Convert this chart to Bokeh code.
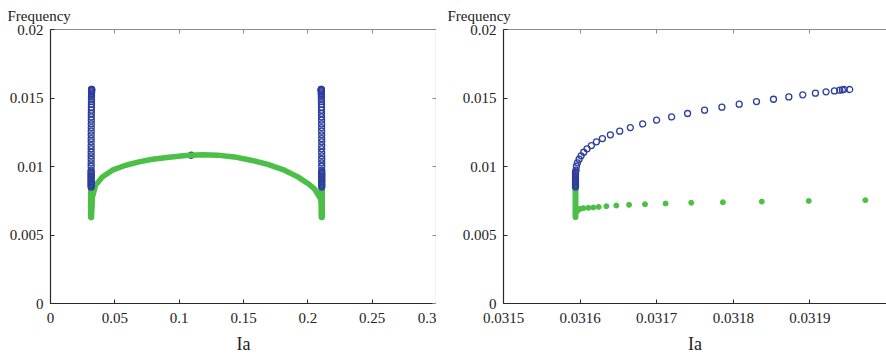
from bokeh.plotting import figure
from bokeh.layouts import row
from bokeh.models import LinearAxis, FixedTicker, Range1d
from bokeh.embed import file_html
from bokeh.resources import INLINE

# ---------------- data ----------------
# y axis
freq_ticks = [0, 0.005, 0.01, 0.015, 0.02]
freq_labels = ["0", "0.005", "0.01", "0.015", "0.02"]
# left panel x axis
ia_ticks_full = [0, 0.05, 0.1, 0.15, 0.2, 0.25, 0.3]
ia_labels_full = ["0", "0.05", "0.1", "0.15", "0.2", "0.25", "0.3"]
# right panel x axis (zoom)
ia_ticks_zoom = [0.0315, 0.0316, 0.0317, 0.0318, 0.0319]
ia_labels_zoom = ["0.0315", "0.0316", "0.0317", "0.0318", "0.0319"]

# blue branch (open circles), near the left turning point
blue_ia = [0.031594] * 12 + [
    0.0315948, 0.0315952, 0.0315965, 0.0315987, 0.0316013, 0.0316047, 0.0316091,
    0.0316147, 0.0316213, 0.0316291, 0.0316395, 0.0316517, 0.0316656, 0.0316817,
    0.0316999, 0.0317195, 0.0317403, 0.0317625, 0.0317851, 0.0318077, 0.0318303,
    0.0318525, 0.0318725, 0.0318907, 0.0319072, 0.0319211, 0.031932, 0.031939,
    0.0319424, 0.0319446, 0.031952]
blue_freq = [0.0085, 0.0086, 0.0087, 0.0088, 0.0089, 0.0090, 0.0091, 0.0092,
             0.0093, 0.0094, 0.0095, 0.0096,
             0.00973, 0.01002, 0.01027, 0.01053, 0.01078, 0.01104, 0.01129,
             0.01153, 0.01180, 0.01204, 0.01231, 0.01258, 0.01284, 0.01311,
             0.01338, 0.01362, 0.01387, 0.01411, 0.01433, 0.01455, 0.01474,
             0.01491, 0.01508, 0.01523, 0.01535, 0.01545, 0.01552, 0.01557,
             0.01559, 0.01562, 0.01562]
# blue branch near the right turning point (same frequencies)
blue_ia_right = [0.210806] * 12 + [
    0.2108052, 0.2108048, 0.2108035, 0.2108013, 0.2107987, 0.2107953, 0.2107909,
    0.2107853, 0.2107787, 0.2107709, 0.2107605, 0.2107483, 0.2107344, 0.2107183,
    0.2107001, 0.2106805, 0.2106597, 0.2106375, 0.2106149, 0.2105923, 0.2105697,
    0.2105475, 0.2105275, 0.2105093, 0.2104928, 0.2104789, 0.210468, 0.210461,
    0.2104576, 0.2104554, 0.210448]
# isolated blue point on the arc
blue_mid_ia = [0.1095]
blue_mid_freq = [0.01082]

# green branch (filled dots): vertical part at turning points
green_vert_freq = [0.0063, 0.0064, 0.0065, 0.0066, 0.0067, 0.0068, 0.0069, 0.0070,
                   0.0071, 0.0072, 0.0073, 0.0074, 0.0075, 0.0076, 0.0077, 0.0078,
                   0.0079, 0.0080, 0.0081, 0.0082, 0.0083, 0.0084, 0.0085]
green_vert_ia_left = [0.031594] * 23
green_vert_ia_right = [0.210806] * 23
# green tail leaving the left turning point
green_tail_ia = [0.031595, 0.0315973, 0.0316, 0.0316043, 0.0316108, 0.0316173,
                 0.0316243, 0.0316343, 0.0316473, 0.0316639, 0.0316847, 0.0317116,
                 0.0317451, 0.0317864, 0.0318372, 0.0318985, 0.0319724]
green_tail_freq = [0.00669, 0.00681, 0.00691, 0.00696, 0.00698, 0.00701, 0.00705,
                   0.00710, 0.00715, 0.00720, 0.00725, 0.00730, 0.00735, 0.00739,
                   0.00744, 0.00749, 0.00754]
# green arc across the whole range
arc_ia = [0.0316, 0.03197, 0.03506, 0.04029, 0.04808, 0.05844, 0.06881, 0.07925,
          0.09218, 0.10519, 0.11821, 0.1299, 0.14283, 0.15584, 0.16886, 0.18179,
          0.19223, 0.20003, 0.20517, 0.20906, 0.2104, 0.2108]
arc_freq = [0.0069, 0.00754, 0.00864, 0.00924, 0.00973, 0.01009, 0.01034, 0.01053,
            0.01068, 0.01080, 0.01086, 0.01083, 0.0107, 0.01046, 0.01015, 0.00973,
            0.00924, 0.00876, 0.00836, 0.00778, 0.0075, 0.0069]

BLUE = "#2d3e9c"
GREEN = "#4cbf46"
FONT = "Liberation Serif"
AX_DARK = "#2a2a2a"
AX_GRAY = "#8a8a8a"


def style_axis(ax, color, ticks, labels=None):
    ax.ticker = FixedTicker(ticks=ticks)
    ax.axis_line_color = color
    ax.axis_line_width = 1.2
    ax.major_tick_in = 4
    ax.major_tick_out = 0
    ax.major_tick_line_color = color
    ax.minor_tick_line_color = None
    ax.major_label_text_font = FONT
    ax.major_label_text_color = "#222222"
    ax.major_label_text_font_size = "15px"
    if labels is None:
        ax.major_label_overrides = {t: "" for t in ticks}
        ax.major_label_standoff = 0
    else:
        ax.major_label_overrides = dict(zip(ticks, labels))


def make_fig(width, xr, xt, xl, bl, br, right_axis, freq_dx):
    p = figure(width=width, height=359, x_range=Range1d(*xr), y_range=Range1d(0, 0.02),
               output_backend="svg", toolbar_location=None,
               min_border_left=bl, min_border_right=br, min_border_top=29,
               min_border_bottom=56, title="Frequency")
    p.outline_line_color = None
    p.grid.visible = False
    p.background_fill_color = "white"
    p.border_fill_color = "white"

    p.title.align = "left"
    p.title.offset = freq_dx
    p.title.text_font = FONT
    p.title.text_font_size = "15px"
    p.title.text_font_style = "normal"
    p.title.text_color = "#222222"
    p.title.standoff = 11

    xa = p.xaxis[0]
    style_axis(xa, AX_DARK, xt, xl)
    xa.major_label_standoff = 9
    xa.axis_label = "Ia"
    xa.axis_label_text_font = FONT
    xa.axis_label_text_font_style = "normal"
    xa.axis_label_text_font_size = "18px"
    xa.axis_label_text_color = "#222222"
    xa.axis_label_standoff = 8

    ya = p.yaxis[0]
    style_axis(ya, AX_DARK, freq_ticks, freq_labels)
    ya.major_label_standoff = 7

    top = LinearAxis()
    style_axis(top, AX_GRAY, xt)
    p.add_layout(top, "above")
    if right_axis:
        ra = LinearAxis()
        style_axis(ra, AX_GRAY, freq_ticks)
        p.add_layout(ra, "right")
    return p


# ---------------- left panel ----------------
p1 = make_fig(436, (0, 0.3), ia_ticks_full, ia_labels_full, 50, 0, True, -43)
p1.scatter(blue_mid_ia, blue_mid_freq, marker="circle", size=6, fill_color=None,
           line_color=BLUE, line_width=1.3)
p1.line(arc_ia, arc_freq, line_color=GREEN, line_width=5.5, line_cap="round",
        line_join="round")
p1.scatter(green_vert_ia_left, green_vert_freq, marker="circle", size=5.5,
           fill_color=GREEN, line_color=GREEN)
p1.scatter(green_vert_ia_right, green_vert_freq, marker="circle", size=5.5,
           fill_color=GREEN, line_color=GREEN)
p1.scatter(green_tail_ia, green_tail_freq, marker="circle", size=5.5,
           fill_color=GREEN, line_color=GREEN)
p1.scatter(blue_ia, blue_freq, marker="circle", size=6, fill_color=None,
           line_color=BLUE, line_width=1.3)
p1.scatter(blue_ia_right, blue_freq, marker="circle", size=6, fill_color=None,
           line_color=BLUE, line_width=1.3)

# ---------------- right panel ----------------
p2 = make_fig(450, (0.0315, 0.032), ia_ticks_zoom, ia_labels_zoom, 67, 0, False, -56)
p2.scatter(green_vert_ia_left, green_vert_freq, marker="circle", size=5,
           fill_color=GREEN, line_color=GREEN)
p2.scatter(green_tail_ia, green_tail_freq, marker="circle", size=5,
           fill_color=GREEN, line_color=GREEN)
p2.scatter(blue_ia, blue_freq, marker="circle", size=6, fill_color=None,
           line_color=BLUE, line_width=1.3)

layout = row(p1, p2)
open("out.html", "w").write(file_html(layout, INLINE))
